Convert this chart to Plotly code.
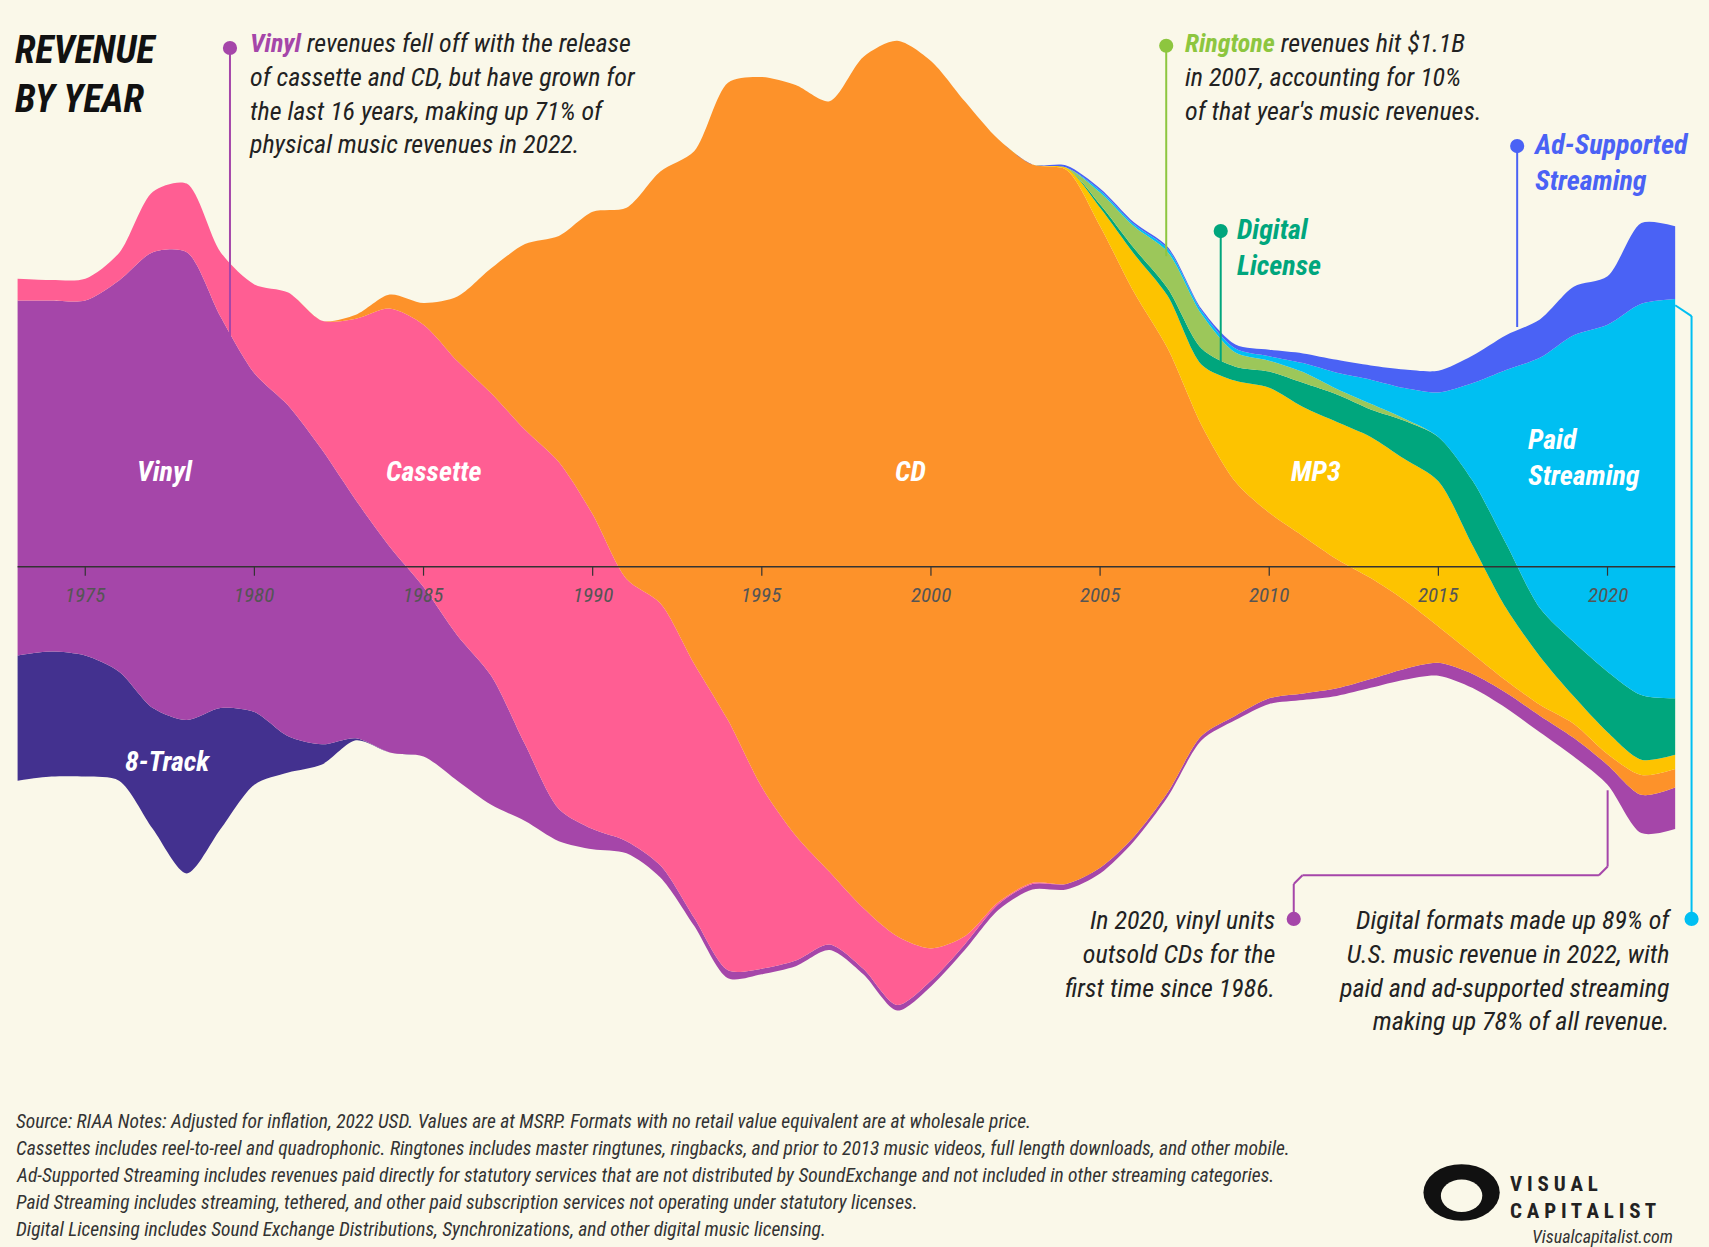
import plotly.graph_objects as go

years = list(range(1973, 2023))

# stream offset (bottom edge of the stream), $B
baseline = [-5.3,-5.2,-5.2,-5.3,-6.5,-7.6,-6.5,-5.4,-5.1,-4.9,-4.3,-4.6,-4.7,-5.3,-5.9,-6.3,-6.8,-7.0,-7.1,-7.7,
            -8.9,-10.2,-10.1,-9.9,-9.5,-10.1,-11.0,-10.4,-9.5,-8.5,-8.0,-8.0,-7.6,-6.8,-5.7,-4.3,-3.8,-3.4,-3.3,-3.2,
            -3.0,-2.8,-2.7,-3.0,-3.5,-4.1,-4.7,-5.4,-6.6,-6.5]

eight_track = [3.1,3.1,3.0,2.7,3.0,3.8,3.0,1.8,0.9,0.5,0.05] + [0]*39
vinyl = [8.8,8.7,8.8,9.7,11.3,11.6,9.7,8.4,8.2,7.3,5.9,5.1,4.2,3.6,3.2,1.9,0.8,0.5,0.3,0.3,
         0.2,0.2] + [0.14]*11 + [0.11]*4 + [0.14,0.16,0.19,0.22,0.27,0.32,0.35,0.38,0.41,0.46,0.49,0.95,1.03]
cassette = [0.54,0.51,0.54,0.68,1.5,1.7,1.6,2.2,2.8,3.2,4.5,5.9,6.5,6.8,7.0,7.8,8.6,7.8,6.5,6.5,
            6.3,6.2,4.5,3.1,1.8,1.5,1.7,0.8,0.2,0.05,0.03] + [0]*19
cd = [0]*10 + [0.1,0.35,0.54,1.6,3.1,4.6,5.6,7.5,9.2,10.7,12.7,15.8,17.6,18.6,19.1,21.1,22.2,22.0,20.7,18.9,
      17.8,17.7,15.9,13.5,11.0,7.7,5.8,4.6,3.9,3.2,2.5,1.7,0.9,0.5,0.3,0.27,0.35,0.27,0.49,0.46]
mp3 = [0]*31 + [0.05,0.46,0.95,1.3,1.5,2.5,3.1,3.2,3.4,3.5,3.5,3.6,2.7,1.8,1.2,0.68,0.54,0.38,0.35]
digital_license = [0]*32 + [0.08,0.14,0.19,0.4,0.35,0.4,0.6,0.68,0.68,0.95,1.1,1.6,1.6,1.2,1.35,1.5,1.6,1.4]
ringtone = [0]*31 + [0.01,0.3,0.54,0.9,0.85,0.35,0.27,0.27,0.14,0.14,0.05,0,0,0,0,0,0,0,0]
paid_streaming = [0]*32 + [0.05,0.05,0.08,0.08,0.1,0.11,0.22,0.4,0.6,0.76,1.1,2.4,4.3,6.2,7.6,8.6,9.7,9.9]
ad_streaming = [0]*31 + [0.05,0.05,0.05,0.05,0.05,0.1,0.16,0.24,0.32,0.35,0.46,0.54,0.68,0.86,0.95,1.2,1.2,2.0,1.8]

series = [("8-Track", eight_track, "#43318F"), ("Vinyl", vinyl, "#A546A9"), ("Cassette", cassette, "#FF5E93"),
          ("CD", cd, "#FD922A"), ("MP3", mp3, "#FDC300"), ("Digital License", digital_license, "#00A67D"),
          ("Ringtone", ringtone, "#9CC75A"), ("Paid Streaming", paid_streaming, "#00BFF2"),
          ("Ad-Supported Streaming", ad_streaming, "#4A62F5")]
tick_years = [1975, 1980, 1985, 1990, 1995, 2000, 2005, 2010, 2015, 2020]

BG = "#FAF8E9"
FONT = "Liberation Sans Narrow, Roboto Condensed, Roboto, sans-serif"
W, H = 1568.0, 1144.0
def px(x): return x / W
def py(y): return 1 - y / H

fig = go.Figure()
fig.add_trace(go.Scatter(x=years, y=baseline, stackgroup="s", mode="lines",
                         line=dict(width=0, shape="spline", smoothing=0.8),
                         fillcolor="rgba(0,0,0,0)", hoverinfo="skip", showlegend=False))
for name, vals, col in series:
    fig.add_trace(go.Scatter(x=years, y=vals, stackgroup="s", mode="lines", name=name,
                             line=dict(width=0, color=col, shape="spline", smoothing=0.8),
                             fillcolor=col, showlegend=False))

shapes = [dict(type="line", xref="x", yref="y", x0=1973, x1=2022, y0=0, y1=0,
               line=dict(color="#333", width=1.5))]
for t in tick_years:
    shapes.append(dict(type="line", xref="x", yref="y", x0=t, x1=t, y0=0, y1=-0.22,
                       line=dict(color="#333", width=1.2)))

ann = []
for t in tick_years:
    ann.append(dict(x=t, y=-0.35, xref="x", yref="y", text=f"<i>{t}</i>", showarrow=False,
                    yanchor="top", font=dict(size=21, color="#555", family=FONT)))

def text(x, y, s, size=26, color="#222", xanchor="left", align="left", yanchor="top"):
    ann.append(dict(x=px(x), y=py(y), xref="paper", yref="paper", text=s, showarrow=False,
                    xanchor=xanchor, yanchor=yanchor, align=align,
                    font=dict(size=size, color=color, family=FONT)))

def line(pts, color):
    for (x0, y0), (x1, y1) in zip(pts[:-1], pts[1:]):
        shapes.append(dict(type="line", xref="paper", yref="paper", x0=px(x0), y0=py(y0),
                           x1=px(x1), y1=py(y1), line=dict(color=color, width=2)))

def dot(x, y, color, r=6.5):
    shapes.append(dict(type="circle", xref="paper", yref="paper", x0=px(x - r), x1=px(x + r),
                       y0=py(y - r), y1=py(y + r), fillcolor=color, line=dict(width=0)))

text(12, 24, "<b><i>REVENUE<br>BY YEAR</i></b>", size=38, color="#111")

for x, y, s in [(151, 433, "Vinyl"), (398, 433, "Cassette"), (835, 433, "CD"), (1207, 433, "MP3"),
                (1453, 420, "Paid<br>Streaming"), (154, 699, "8-Track")]:
    ann.append(dict(x=px(x), y=py(y), xref="paper", yref="paper", text=f"<b><i>{s}</i></b>",
                    showarrow=False, align="left", xanchor="center",
                    font=dict(size=28, color="white", family=FONT)))

VC, RC, DC, AC, PC = "#A546A9", "#8DC63F", "#00A67D", "#4A62F5", "#00BFF2"
line([(211, 44), (211, 322)], VC); dot(211, 44, VC)
text(227, 24, f"<i><b><span style='color:{VC}'>Vinyl</span></b> revenues fell off with the release<br>"
     "of cassette and CD, but have grown for<br>the last 16 years, making up 71% of<br>"
     "physical music revenues in 2022.</i>")
line([(1070, 42), (1070, 235)], RC); dot(1070, 42, RC)
text(1085, 24, f"<i><b><span style='color:{RC}'>Ringtone</span></b> revenues hit $1.1B<br>"
     "in 2007, accounting for 10%<br>of that year's music revenues.</i>")
line([(1120, 212), (1120, 338)], DC); dot(1120, 212, DC)
text(1133, 194, "<b><i>Digital<br>License</i></b>", size=28, color=DC)
line([(1392, 134), (1392, 300)], AC); dot(1392, 134, AC)
text(1405, 116, "<b><i>Ad-Supported<br>Streaming</i></b>", size=28, color=AC)
line([(1537, 280), (1552, 290), (1552, 843)], PC); dot(1552, 843, PC)
line([(1475, 725), (1475, 795), (1467, 803), (1195, 803), (1187, 811), (1187, 843)], VC); dot(1187, 843, VC)
text(1172, 828, "<i>In 2020, vinyl units<br>outsold CDs for the<br>first time since 1986.</i>",
     xanchor="right", align="right")
text(1535, 828, "<i>Digital formats made up 89% of<br>U.S. music revenue in 2022, with<br>"
     "paid and ad-supported streaming<br>making up 78% of all revenue.</i>", xanchor="right", align="right")

notes = ["Source: RIAA Notes: Adjusted for inflation, 2022 USD. Values are at MSRP. Formats with no retail value equivalent are at wholesale price.",
         "Cassettes includes reel-to-reel and quadrophonic. Ringtones includes master ringtunes, ringbacks, and prior to 2013 music videos, full length downloads, and other mobile.",
         "Ad-Supported Streaming includes revenues paid directly for statutory services that are not distributed by SoundExchange and not included in other streaming categories.",
         "Paid Streaming includes streaming, tethered, and other paid subscription services not operating under statutory licenses.",
         "Digital Licensing includes Sound Exchange Distributions, Synchronizations, and other digital music licensing."]
for i, n in enumerate(notes):
    text(13, 1029 + 24.7 * i, f"<i>{n}</i>", size=19.5, color="#333", yanchor="middle")

shapes.append(dict(type="circle", xref="paper", yref="paper", x0=px(1306), x1=px(1376), y0=py(1068),
                   y1=py(1120), fillcolor="#111", line=dict(width=0)))
shapes.append(dict(type="circle", xref="paper", yref="paper", x0=px(1322), x1=px(1360), y0=py(1082),
                   y1=py(1112), fillcolor=BG, line=dict(width=0)))
text(1384, 1073, "<b>V I S U A L<br>C A P I T A L I S T</b>", size=21, color="#222")
text(1537, 1134, "<i>Visualcapitalist.com</i>", size=18, color="#333", xanchor="right", yanchor="middle")

fig.update_layout(width=1709, height=1247, margin=dict(l=0, r=0, t=0, b=0),
                  paper_bgcolor=BG, plot_bgcolor=BG, shapes=shapes, annotations=ann,
                  xaxis=dict(range=[1972.48, 2023.0], visible=False, fixedrange=True),
                  yaxis=dict(range=[-16.86, 14.05], visible=False, fixedrange=True),
                  font=dict(family=FONT))
fig.write_html("out.html", config={"displayModeBar": False},
               post_script="document.body.style.margin='0';document.body.style.background='%s';" % BG)
